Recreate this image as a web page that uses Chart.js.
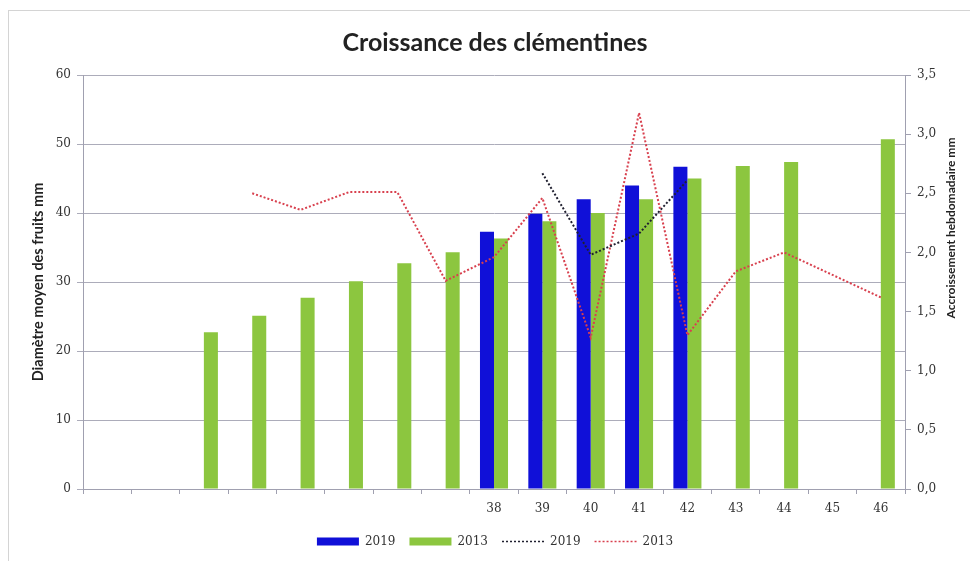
<!DOCTYPE html>
<html>
<head>
<meta charset="utf-8">
<title>Croissance des clémentines</title>
<script src="https://cdn.jsdelivr.net/npm/chart.js@4/dist/chart.umd.min.js"></script>
<style>
    html, body { margin: 0; padding: 0; background: #fff; overflow: hidden; }
    #frame { position: absolute; left: 8px; top: 10px; width: 1000px; height: 600px; border-left: 1px solid #d4d4d4; border-top: 1px solid #d4d4d4; }
    #wrap { position: absolute; left: 0; top: 0; width: 970px; height: 561px; }
</style>
</head>
<body>
<div id="frame"></div>
<div id="wrap"><canvas id="clementineChart" width="970" height="561"></canvas></div>
<script>
// semaines (les 8 premieres sans libelle)
var semaines = ['', '', '', '', '', '', '', '', '38', '39', '40', '41', '42', '43', '44', '45', '46'];

// diametre moyen des fruits (mm)
var diametre2019 = [null, null, null, null, null, null, null, null, 37.3, 39.9, 42.0, 44.0, 46.7, null, null, null, null];
var diametre2013 = [null, null, 22.7, 25.1, 27.7, 30.1, 32.7, 34.3, 36.3, 38.8, 40.0, 42.0, 45.0, 46.8, 47.4, null, 50.7];

// accroissement hebdomadaire (mm)
var accroissement2019 = [null, null, null, null, null, null, null, null, null, 2.67, 1.98, 2.16, 2.61, null, null, null, null];
var accroissement2013 = [null, null, null, 2.50, 2.36, 2.51, 2.51, 1.76, 1.96, 2.46, 1.28, 3.18, 1.30, 1.84, 2.00, 1.81, 1.62];

var tickFont = { family: 'DejaVu Serif', size: 12 };
var titleFont = { family: 'Lato', size: 14.5, weight: 'bold' };

// titre de l'axe droit, lu de bas en haut comme dans Excel
var rightTitle = {
    id: 'rightTitle',
    afterDraw: function (chart) {
        var ctx = chart.ctx;
        ctx.save();
        ctx.translate(951, 228);
        ctx.rotate(-Math.PI / 2);
        ctx.font = 'bold 12px Lato';
        ctx.fillStyle = '#222';
        ctx.textAlign = 'center';
        ctx.textBaseline = 'middle';
        ctx.fillText('Accroissement hebdomadaire mm', 0, 0);
        ctx.restore();
    }
};

function drawChart() {

    var ctx = document.getElementById('clementineChart').getContext('2d');
    var chart = new Chart(ctx, {
        type: 'bar',
        data: {
            labels: semaines,
            datasets: [
                {
                    label: '2019',
                    data: diametre2019,
                    backgroundColor: '#1010d8',
                    yAxisID: 'y',
                    order: 1
                },
                {
                    label: '2013',
                    data: diametre2013,
                    backgroundColor: '#8cc63f',
                    yAxisID: 'y',
                    order: 1
                },
                {
                    type: 'line',
                    label: '2019',
                    data: accroissement2019,
                    borderColor: '#202030',
                    backgroundColor: '#202030',
                    borderWidth: 2,
                    borderDash: [2, 2],
                    pointRadius: 0,
                    tension: 0,
                    yAxisID: 'y1',
                    order: 0
                },
                {
                    type: 'line',
                    label: '2013',
                    data: accroissement2013,
                    borderColor: '#d8404e',
                    backgroundColor: '#d8404e',
                    borderWidth: 2,
                    borderDash: [2, 2],
                    pointRadius: 0,
                    tension: 0,
                    yAxisID: 'y1',
                    order: 0
                }
            ]
        },
        options: {
            responsive: false,
            animation: false,
            categoryPercentage: 0.58,
            barPercentage: 1.0,
            layout: { padding: { left: 20, right: 0, top: 0, bottom: 3.5 } },
            plugins: {
                tooltip: { enabled: false },
                title: {
                    display: true,
                    text: 'Croissance des clémentines',
                    color: '#222',
                    font: { family: 'Lato', size: 25, weight: 'bold', lineHeight: 1.2 },
                    padding: { top: 28, bottom: 17 }
                },
                legend: {
                    position: 'bottom',
                    labels: {
                        color: '#333',
                        font: tickFont,
                        usePointStyle: true,
                        pointStyleWidth: 42,
                        boxHeight: 8,
                        padding: 14,
                        // boites pleines pour les barres, pointilles pour les courbes
                        generateLabels: function (chart) {
                            return chart.data.datasets.map(function (ds, i) {
                                var isLine = ds.type === 'line';
                                return {
                                    text: ds.label,
                                    datasetIndex: i,
                                    fillStyle: ds.backgroundColor,
                                    strokeStyle: isLine ? ds.borderColor : ds.backgroundColor,
                                    lineWidth: isLine ? 1.5 : 0,
                                    lineDash: isLine ? [2, 2] : [],
                                    pointStyle: isLine ? 'line' : 'rect',
                                    fontColor: '#333',
                                    hidden: false
                                };
                            });
                        }
                    }
                }
            },
            scales: {
                x: {
                    offset: true,
                    grid: { display: true, drawOnChartArea: false, offset: true, tickLength: 5, color: '#a0a0b0' },
                    border: { color: '#a0a0b0' },
                    ticks: { autoSkip: false, maxRotation: 0, color: '#333', font: tickFont, padding: 8 },
                    afterFit: function (scale) { scale.height = 32.5; }
                },
                y: {
                    position: 'left',
                    min: 0,
                    max: 60,
                    ticks: { stepSize: 10, color: '#333', font: tickFont, padding: 6 },
                    grid: { color: '#acacba', tickLength: 6 },
                    border: { color: '#a0a0b0' },
                    title: {
                        display: true,
                        text: 'Diamètre moyen des fruits mm',
                        color: '#222',
                        font: titleFont,
                        padding: { top: 10, bottom: 0 }
                    },
                    afterFit: function (scale) { scale.width = 63; }
                },
                y1: {
                    position: 'right',
                    min: 0,
                    max: 3.5,
                    ticks: {
                        stepSize: 0.5,
                        color: '#333',
                        font: tickFont,
                        padding: 6,
                        callback: function (v) { return v.toFixed(1).replace('.', ','); }
                    },
                    grid: { drawOnChartArea: false, color: '#a0a0b0', tickLength: 6 },
                    border: { color: '#a0a0b0' },
                    afterFit: function (scale) { scale.width = 65; }
                }
            }
        },
        plugins: [rightTitle]
    });
}

drawChart();
</script>
</body>
</html>
